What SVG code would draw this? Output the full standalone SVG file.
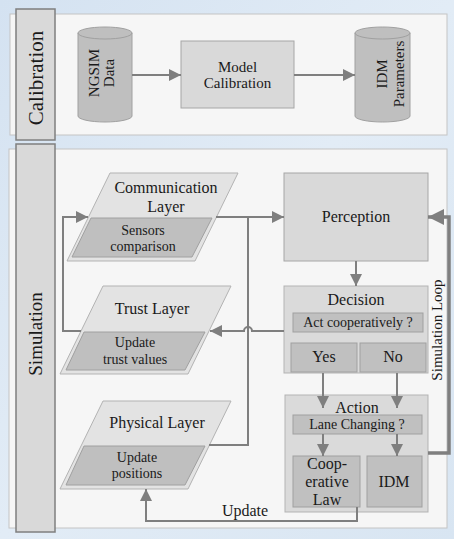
<svg xmlns="http://www.w3.org/2000/svg" width="454" height="539" viewBox="0 0 454 539" font-family="'Liberation Serif', 'DejaVu Serif', 'Times New Roman', serif">
<defs>
  <linearGradient id="bg" x1="0" y1="0" x2="1" y2="1">
    <stop offset="0" stop-color="#d4e2f1"/>
    <stop offset="0.5" stop-color="#e2ecf6"/>
    <stop offset="1" stop-color="#d8e5f2"/>
  </linearGradient>
  <marker id="ah" markerUnits="userSpaceOnUse" markerWidth="12" markerHeight="12" viewBox="0 0 12 12" refX="12" refY="6" orient="auto">
    <path d="M0,0 L12,6 L0,12 Z" fill="#7f7f7f"/>
  </marker>
  <marker id="ahL" markerUnits="userSpaceOnUse" markerWidth="16" markerHeight="16" viewBox="0 0 16 16" refX="16" refY="8" orient="auto">
    <path d="M0,0 L16,8 L0,16 Z" fill="#7f7f7f"/>
  </marker>
  <style>
    text { font-family: 'Liberation Serif', 'DejaVu Serif', 'Times New Roman', serif; fill: #1a1a1a; }
    .panel { fill: #f6f6f6; stroke: #c4c4c4; stroke-width: 1; }
    .bar { fill: #d9d9d9; stroke: #7f7f7f; stroke-width: 1.5; }
    .box { fill: #d9d9d9; stroke: #a6a6a6; stroke-width: 1; }
    .cyl { fill: #bfbfbf; stroke: #a0a0a0; stroke-width: 1; }
    .para { fill: #e3e3e3; stroke: #b3b3b3; stroke-width: 1; }
    .inner { fill: #bfbfbf; stroke: #a0a0a0; stroke-width: 1; }
    .cont { fill: #dadada; stroke: #b3b3b3; stroke-width: 1; }
    .sub { fill: #c0c0c0; stroke: #a0a0a0; stroke-width: 1; }
    .c { text-anchor: middle; }
    .f14 { font-size: 14px; }
    .f15 { font-size: 15px; }
    .f16 { font-size: 16px; }
    .conn path { fill: none; stroke: #7f7f7f; stroke-width: 2; }
    .conn path.thick { stroke-width: 3.5; }
  </style>
</defs>

<rect x="0" y="0" width="454" height="539" fill="url(#bg)"/>

<!-- Panels -->
<g id="calibration-panel">
  <rect class="panel" x="10" y="14" width="437" height="121"/>
  <rect class="bar" x="16" y="9" width="39" height="131"/>
  <text class="c" font-size="21" transform="rotate(-90)" x="-78" y="43">Calibration</text>
</g>
<g id="simulation-panel">
  <rect class="panel" x="9" y="149" width="438" height="379"/>
  <rect class="bar" x="16" y="144" width="39" height="388"/>
  <text class="c" font-size="19" transform="rotate(-90)" x="-334" y="42">Simulation</text>
</g>

<!-- Calibration nodes -->
<g id="ngsim">
  <path class="cyl" d="M78,33 A27,6 0 0 1 132,33 V116 A27,6 0 0 1 78,116 Z"/>
  <path d="M78,33 A27,6 0 0 0 132,33" fill="none" stroke="#a0a0a0"/>
  <text class="c f15" transform="rotate(-90)" x="-73" y="99">NGSIM</text>
  <text class="c f15" transform="rotate(-90)" x="-73" y="114">Data</text>
</g>
<g id="model-calibration">
  <rect class="box" x="181" y="41" width="113" height="67"/>
  <text class="c f15" x="237.5" y="72">Model</text>
  <text class="c f15" x="237.5" y="88">Calibration</text>
</g>
<g id="idm-parameters">
  <path class="cyl" d="M355,33 A27.5,6 0 0 1 410,33 V116 A27.5,6 0 0 1 355,116 Z"/>
  <path d="M355,33 A27.5,6 0 0 0 410,33" fill="none" stroke="#a0a0a0"/>
  <text class="c f15" transform="rotate(-90)" x="-74" y="387">IDM</text>
  <text class="c f15" transform="rotate(-90)" x="-74" y="404">Parameters</text>
</g>

<!-- Simulation nodes -->
<g id="communication-layer">
  <path class="para" d="M110,173 L238,173 L195,261 L67,261 Z"/>
  <path class="inner" d="M91,218 L212,218 L192,257 L72,257 Z"/>
  <text class="c f16" x="166" y="193">Communication</text>
  <text class="c f16" x="166" y="212">Layer</text>
  <text class="c f14" x="143" y="235">Sensors</text>
  <text class="c f14" x="143" y="251">comparison</text>
</g>
<g id="trust-layer">
  <path class="para" d="M103,286 L231,286 L188,374 L60,374 Z"/>
  <path class="inner" d="M84,332 L205,332 L185,370 L66,370 Z"/>
  <text class="c f16" x="152" y="314">Trust Layer</text>
  <text class="c f14" x="135" y="347">Update</text>
  <text class="c f14" x="135" y="364">trust values</text>
</g>
<g id="physical-layer">
  <path class="para" d="M103,401 L231,401 L188,489 L60,489 Z"/>
  <path class="inner" d="M84,446 L205,446 L185,485 L66,485 Z"/>
  <text class="c f16" x="157" y="428">Physical Layer</text>
  <text class="c f14" x="137" y="462">Update</text>
  <text class="c f14" x="137" y="478">positions</text>
</g>
<g id="perception">
  <rect class="box" x="284" y="173" width="144" height="88"/>
  <text class="c f16" x="356" y="222">Perception</text>
</g>
<g id="decision">
  <rect class="cont" x="284" y="286" width="144" height="87"/>
  <text class="c f16" x="356" y="305">Decision</text>
  <rect class="sub" x="293" y="313" width="130" height="19"/>
  <text class="c f14" x="358" y="327">Act cooperatively ?</text>
  <rect class="sub" x="291" y="343" width="66" height="29"/>
  <text class="c f16" x="324" y="362">Yes</text>
  <rect class="sub" x="360" y="343" width="66" height="29"/>
  <text class="c f16" x="393" y="362">No</text>
</g>
<g id="action">
  <rect class="cont" x="285" y="395" width="143" height="117"/>
  <text class="c f16" x="357" y="413">Action</text>
  <rect class="sub" x="293" y="415" width="129" height="19"/>
  <text class="c f14" x="357" y="429">Lane Changing ?</text>
  <rect class="sub" x="293" y="456" width="67" height="51"/>
  <text class="c f16" x="327" y="469">Coop-</text>
  <text class="c f16" x="327" y="487">erative</text>
  <text class="c f16" x="327" y="505">Law</text>
  <rect class="sub" x="367" y="456" width="55" height="51"/>
  <text class="c f16" x="394" y="487">IDM</text>
</g>

<!-- Connectors -->
<g id="connectors" class="conn">
  <path d="M132,75 H181" marker-end="url(#ah)"/>
  <path d="M294,75 H355" marker-end="url(#ah)"/>
  <path d="M216,217 H284" marker-end="url(#ah)"/>
  <path d="M209,445 H248 V217"/>
  <path d="M284,331 H252 A4,4 0 0 0 244,331 H210" marker-end="url(#ah)"/>
  <path d="M81,331 H63 V217 H88" marker-end="url(#ah)"/>
  <path d="M356,261 V286" marker-end="url(#ah)"/>
  <path d="M323,373 V408" marker-end="url(#ah)"/>
  <path d="M397,373 V408" marker-end="url(#ah)"/>
  <path d="M323,434 V456" marker-end="url(#ah)"/>
  <path d="M397,434 V456" marker-end="url(#ah)"/>
  <path class="thick" d="M428,453 H449 V217 H428" marker-end="url(#ahL)"/>
  <path d="M357,507 V521 H146 V489" marker-end="url(#ah)"/>
</g>
<g id="connector-labels">
  <text class="c f16" x="245" y="516">Update</text>
  <text class="c f15" transform="rotate(-90)" x="-330" y="442">Simulation Loop</text>
</g>
</svg>
